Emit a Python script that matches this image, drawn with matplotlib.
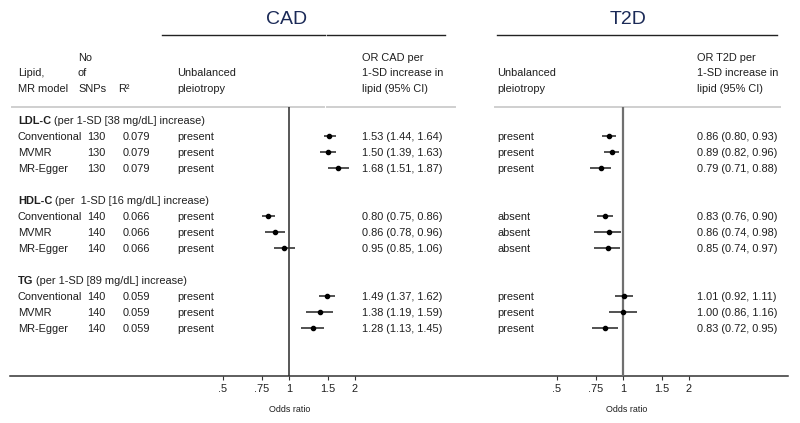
import matplotlib
matplotlib.use("Agg")
import matplotlib.pyplot as plt
from matplotlib.ticker import FixedLocator, FixedFormatter, NullLocator

plt.rcParams['font.family'] = ['Liberation Sans', 'DejaVu Sans']

# Data
groups = ["LDL-C", "HDL-C", "TG"]
group_notes = [" (per 1-SD [38 mg/dL] increase)",
               " (per  1-SD [16 mg/dL] increase)",
               " (per 1-SD [89 mg/dL] increase)"]
models = ["Conventional", "MVMR", "MR-Egger"]
n_snps = [130, 140, 140]
r2 = ["0.079", "0.066", "0.059"]

cad_pleio = ["present"] * 9
cad_or = [1.53, 1.50, 1.68, 0.80, 0.86, 0.95, 1.49, 1.38, 1.28]
cad_lo = [1.44, 1.39, 1.51, 0.75, 0.78, 0.85, 1.37, 1.19, 1.13]
cad_hi = [1.64, 1.63, 1.87, 0.86, 0.96, 1.06, 1.62, 1.59, 1.45]

t2d_pleio = ["present"] * 3 + ["absent"] * 3 + ["present"] * 3
t2d_or = [0.86, 0.89, 0.79, 0.83, 0.86, 0.85, 1.01, 1.00, 0.83]
t2d_lo = [0.80, 0.82, 0.71, 0.76, 0.74, 0.74, 0.92, 0.86, 0.72]
t2d_hi = [0.93, 0.96, 0.88, 0.90, 0.98, 0.97, 1.11, 1.16, 0.95]

tick_vals = [0.5, 0.75, 1, 1.5, 2]
tick_labels = [".5", ".75", "1", "1.5", "2"]

W, H = 800, 423
FS = 7.9
TXT = '#1f1f1f'
NAVY = '#1b2a57'

fig = plt.figure(figsize=(W / 100, H / 100), dpi=100)
bg = fig.add_axes([0, 0, 1, 1])
bg.set_xlim(0, W)
bg.set_ylim(H, 0)
bg.axis('off')

# row layout: row index -> pixel y
ROW0, ROWH = 120, 16
AX_TOP, AX_BOT = 107, 376


def row_y(r):
    return ROW0 + ROWH * r


def txt(x, y, s, **kw):
    kw.setdefault('fontsize', FS)
    kw.setdefault('color', TXT)
    return bg.text(x, y + 4, s, va='baseline', **kw)


# titles and rules
bg.text(286.5, 20, "CAD", fontsize=14, color=NAVY, ha='center', va='center')
bg.text(628, 20, "T2D", fontsize=14, color=NAVY, ha='center', va='center')
for x0, x1 in [(162, 325), (327, 445), (497, 777)]:
    bg.plot([x0, x1], [35, 35], color='#222222', lw=1.0)
for x0, x1 in [(12, 324), (327, 455), (495, 780)]:
    bg.plot([x0, x1], [107, 107], color='#cfcfcf', lw=1.4)
bg.plot([10, 788], [AX_BOT, AX_BOT], color='#333333', lw=1.1)

# column headers
txt(78, 57, "No")
txt(18, 72.5, "Lipid,")
txt(78, 72.5, "of")
txt(177, 72.5, "Unbalanced")
txt(18, 88.5, "MR model")
txt(78, 88.5, "SNPs")
txt(118, 88.5, "R²")
txt(177, 88.5, "pleiotropy")
txt(362, 57, "OR CAD per")
txt(362, 72.5, "1-SD increase in")
txt(362, 88.5, "lipid (95% CI)")
txt(497, 72.5, "Unbalanced")
txt(497, 88.5, "pleiotropy")
txt(697, 57, "OR T2D per")
txt(697, 72.5, "1-SD increase in")
txt(697, 88.5, "lipid (95% CI)")

# table rows
rows = []
for g in range(3):
    hr = g * 5
    t = txt(18, row_y(hr), groups[g], fontweight='bold')
    bg.annotate(group_notes[g], xy=(1, 0), xycoords=t, ha='left', va='bottom',
                fontsize=FS, color=TXT)
    for m in range(3):
        i = g * 3 + m
        r = hr + 1 + m
        rows.append(r)
        y = row_y(r)
        txt(18, y, models[m])
        txt(87, y, str(n_snps[g]))
        txt(123, y, r2[g])
        txt(177, y, cad_pleio[i])
        txt(362, y, f"{cad_or[i]:.2f} ({cad_lo[i]:.2f}, {cad_hi[i]:.2f})")
        txt(497, y, t2d_pleio[i])
        txt(697, y, f"{t2d_or[i]:.2f} ({t2d_lo[i]:.2f}, {t2d_hi[i]:.2f})")


def forest(px0, px1, px_one, est, lo, hi, vcol, vlw):
    ax = fig.add_axes([px0 / W, 1 - AX_BOT / H, (px1 - px0) / W,
                       (AX_BOT - AX_TOP) / H])
    ax.set_xscale('log')
    ppd = 66.0  # pixels per doubling
    ax.set_xlim(2 ** ((px0 - px_one) / ppd), 2 ** ((px1 - px_one) / ppd))
    ax.set_ylim((AX_BOT - ROW0) / ROWH, (AX_TOP - ROW0) / ROWH)
    ax.patch.set_alpha(0)
    for s in ax.spines.values():
        s.set_visible(False)
    ax.axvline(1, color=vcol, lw=vlw, zorder=1)
    ax.hlines(rows, lo, hi, color='#333333', lw=1.2, zorder=2)
    ax.plot(est, rows, 'o', color='black', ms=3.0, zorder=3)
    ax.xaxis.set_major_locator(FixedLocator(tick_vals))
    ax.xaxis.set_major_formatter(FixedFormatter(tick_labels))
    ax.xaxis.set_minor_locator(NullLocator())
    ax.tick_params(axis='x', length=3, width=0.8, color='#333333', pad=2.5,
                   labelsize=FS, labelcolor=TXT)
    ax.set_yticks([])
    return ax


forest(170, 450, 289, cad_or, cad_lo, cad_hi, '#2a2a2a', 1.1)
forest(520, 780, 623, t2d_or, t2d_lo, t2d_hi, '#707070', 1.6)

bg.text(290, 409, "Odds ratio", fontsize=6.4, color=TXT, ha='center', va='center')
bg.text(627, 409, "Odds ratio", fontsize=6.4, color=TXT, ha='center', va='center')

fig.savefig("out.png", dpi=100)
